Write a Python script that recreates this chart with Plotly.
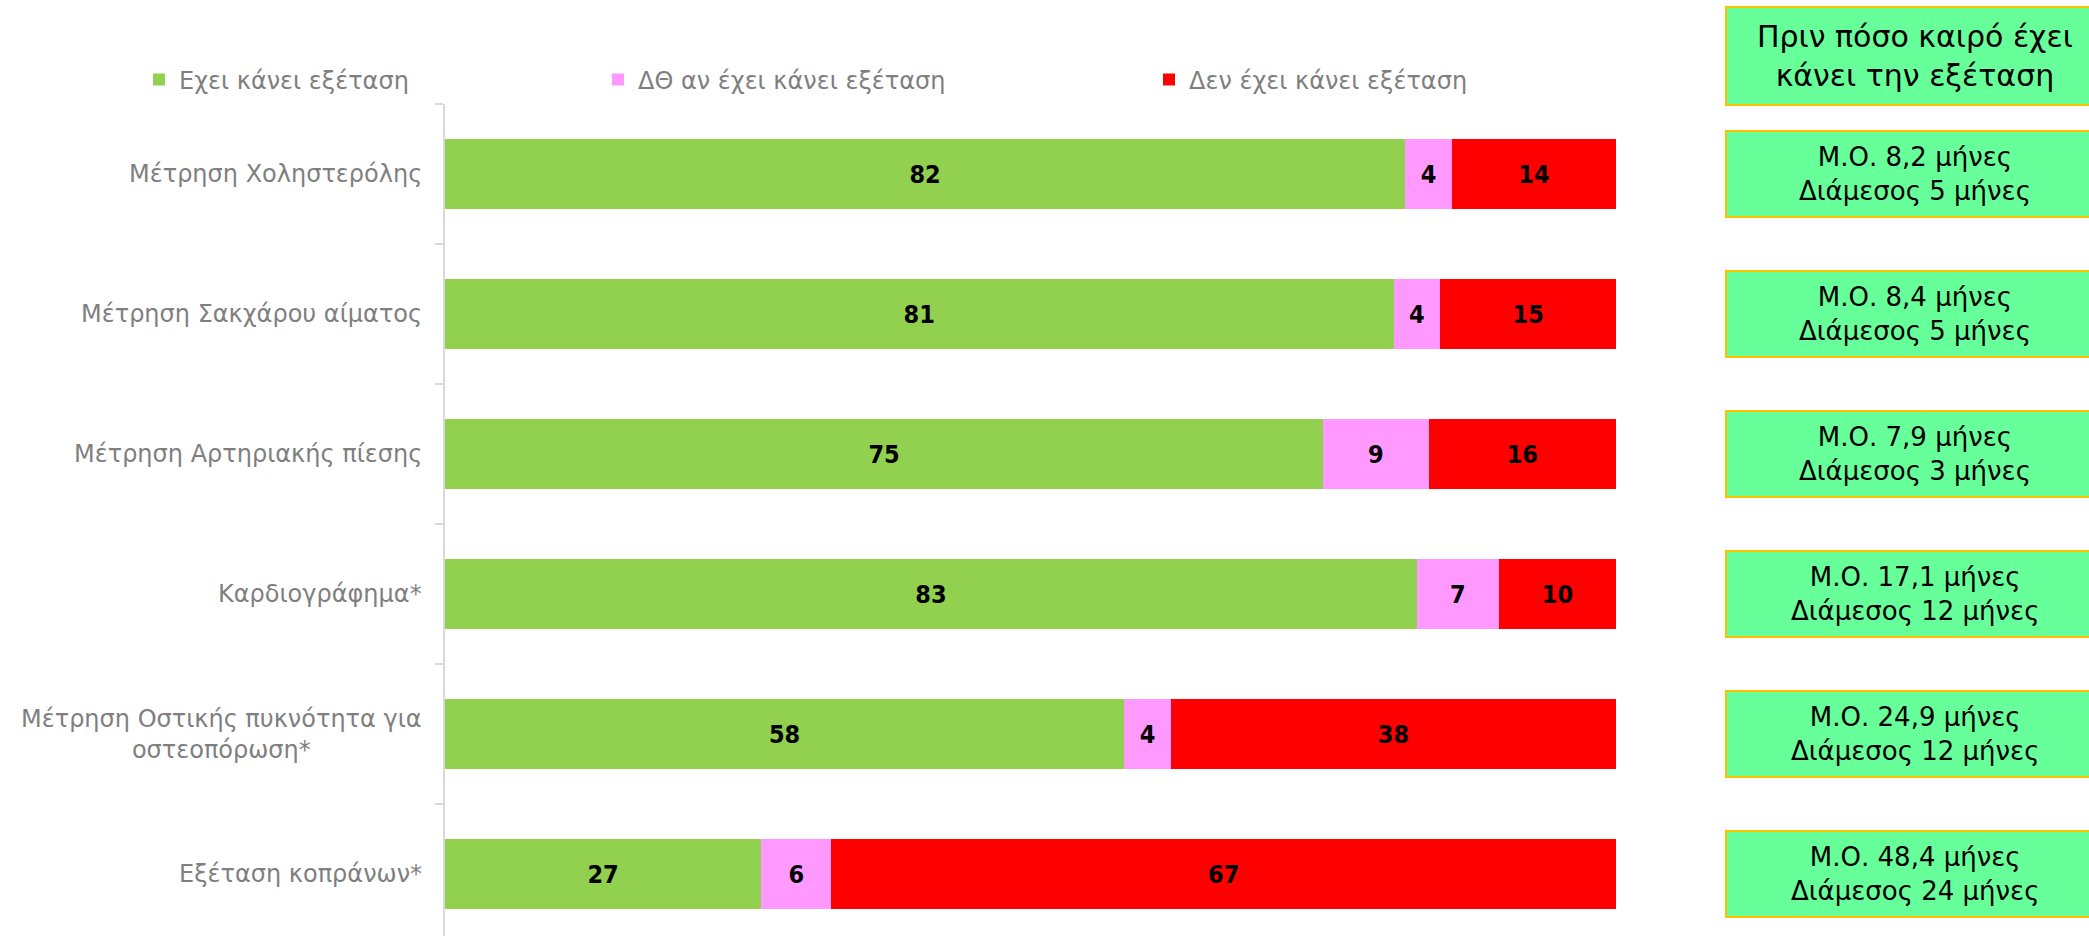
import plotly.graph_objects as go

categories = [
    "Μέτρηση Χοληστερόλης",
    "Μέτρηση Σακχάρου αίματος",
    "Μέτρηση Αρτηριακής πίεσης",
    "Καρδιογράφημα*",
    "Μέτρηση Οστικής πυκνότητα για<br>οστεοπόρωση*",
    "Εξέταση κοπράνων*",
]
has_done = [82, 81, 75, 83, 58, 27]
dont_know = [4, 4, 9, 7, 4, 6]
not_done = [14, 15, 16, 10, 38, 67]
series_names = ["Εχει κάνει εξέταση", "ΔΘ αν έχει κάνει εξέταση", "Δεν έχει κάνει εξέταση"]
series_colors = ["#92D050", "#FF99FF", "#FF0000"]

mean_months = ["8,2", "8,4", "7,9", "17,1", "24,9", "48,4"]
median_months = ["5", "5", "3", "12", "12", "24"]
side_title = "Πριν πόσο καιρό έχει<br>κάνει την εξέταση"

W, H = 2089, 936
L, R, T, B = 445, 473, 104, 0
plot_w = W - L - R
cat_px = 140.0
plot_h = H - T - B
y_top = -0.5
y_bottom = y_top + plot_h / cat_px

ids = list(range(len(categories)))
FONT = "DejaVu Sans"
GRAY = "#7f7f7f"

fig = go.Figure()
legend_ids = ["legend", "legend2", "legend3"]
for vals, name, col, lg in zip([has_done, dont_know, not_done], series_names, series_colors, legend_ids):
    fig.add_trace(go.Bar(
        y=ids, x=vals, name=name, orientation="h",
        marker=dict(color=col, line=dict(width=0)),
        text=vals, texttemplate="<b>%{text}</b>",
        textposition="inside", insidetextanchor="middle",
        constraintext="none",
        textfont=dict(family="DejaVu Sans Condensed, DejaVu Sans", size=25, color="black"),
        legend=lg, showlegend=True,
    ))

def px2paper_x(px):
    return (px - L) / plot_w

def px2paper_y(py):
    return (H - B - py) / plot_h

leg_common = dict(orientation="h", yanchor="middle", xanchor="left",
                  font=dict(family=FONT, size=24, color=GRAY), bgcolor="rgba(0,0,0,0)",
                  itemwidth=30)
fig.update_layout(
    legend=dict(x=px2paper_x(139), y=px2paper_y(80), **leg_common),
    legend2=dict(x=px2paper_x(598), y=px2paper_y(80), **leg_common),
    legend3=dict(x=px2paper_x(1149), y=px2paper_y(80), **leg_common),
)

fig.update_layout(
    barmode="stack",
    bargap=0.5,
    width=W, height=H,
    margin=dict(l=L, r=R, t=T, b=B, pad=0),
    plot_bgcolor="white", paper_bgcolor="white",
    font=dict(family=FONT),
    xaxis=dict(range=[0, 100], visible=False, showgrid=False, zeroline=False),
    yaxis=dict(
        range=[y_bottom, y_top],
        showticklabels=False, showgrid=False, zeroline=False,
        showline=True, linecolor="#d9d9d9", linewidth=1.5,
        ticks="outside", ticklen=8, tickcolor="#d9d9d9", tickwidth=1.5,
        tickmode="array", tickvals=[i + 0.5 for i in [-1] + ids],
    ),
)

# category labels
for i, c in zip(ids, categories):
    fig.add_annotation(
        x=0, xref="paper", y=i, yref="y", text=c, showarrow=False,
        xanchor="right", yanchor="middle", xshift=-21, align="center",
        font=dict(family=FONT, size=24, color=GRAY),
    )

# side boxes
BOX_FILL = "#66FF99"
BOX_LINE = "#FFC000"
bx0, bx1 = px2paper_x(1726), px2paper_x(2200)
tx = px2paper_x(1915)
fig.add_shape(type="rect", xref="paper", yref="paper",
              x0=bx0, x1=bx1, y0=px2paper_y(105), y1=px2paper_y(7),
              fillcolor=BOX_FILL, line=dict(color=BOX_LINE, width=2), layer="above")
fig.add_annotation(x=tx, xref="paper", y=px2paper_y(56), yref="paper",
                   text=side_title, showarrow=False, xanchor="center", yanchor="middle",
                   align="center", font=dict(family=FONT, size=30, color="black"))
for i, m, md in zip(ids, mean_months, median_months):
    fig.add_shape(type="rect", xref="paper", yref="y",
                  x0=bx0, x1=bx1, y0=i - 0.307, y1=i + 0.307,
                  fillcolor=BOX_FILL, line=dict(color=BOX_LINE, width=2), layer="above")
    fig.add_annotation(x=tx, xref="paper", y=i, yref="y",
                       text=f"Μ.Ο. {m} μήνες<br>Διάμεσος {md} μήνες", showarrow=False,
                       xanchor="center", yanchor="middle", align="center",
                       font=dict(family=FONT, size=26, color="black"))

fig.write_html("out.html", config={"displayModeBar": False},
               post_script="document.body.style.margin='0';")
